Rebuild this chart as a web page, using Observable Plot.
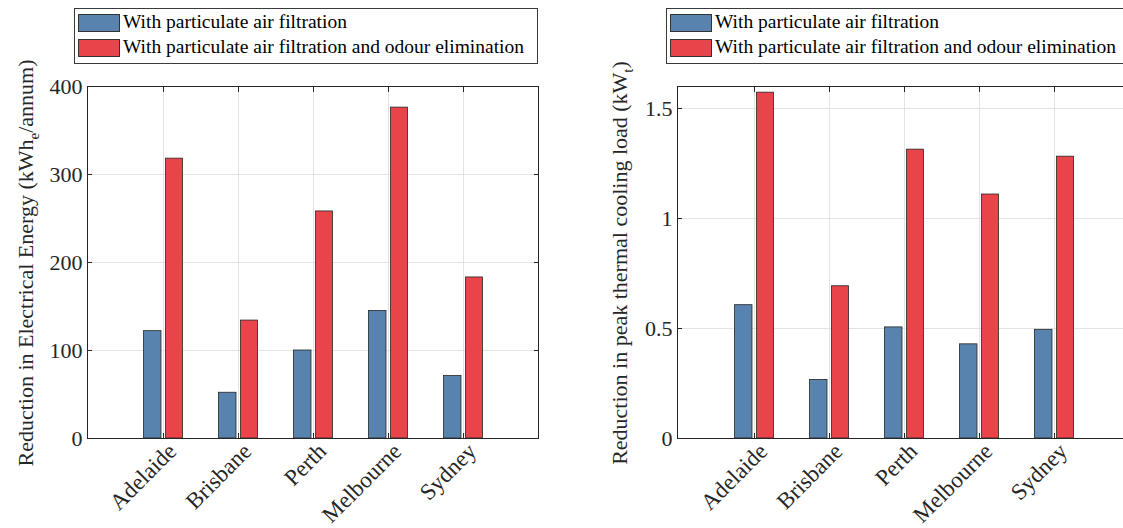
<!DOCTYPE html>
<html><head><meta charset="utf-8">
<script src="https://cdn.jsdelivr.net/npm/d3@7"></script>
<script src="https://cdn.jsdelivr.net/npm/@observablehq/plot@0.6"></script>
<style>
html,body{margin:0;padding:0;background:#fff;overflow:hidden;width:1123px;height:528px;}
#wrap{position:relative;width:1123px;height:528px;overflow:hidden;}
.panel{position:absolute;top:0;}
.legend{position:absolute;top:8px;height:56px;border:1px solid #3a3a3a;background:#fff;font-family:"Liberation Serif","Times New Roman",serif;font-size:19.5px;color:#000;box-sizing:border-box}
.legend .row{position:absolute;left:0;height:18px;white-space:nowrap}
.legend .sw{position:absolute;left:3px;top:0;width:42px;height:18px;border:1px solid #333;box-sizing:border-box}
.legend .lab{position:absolute;left:48px;top:-3px;line-height:22px}
</style></head>
<body><div id="wrap"></div>
<script>
const cities = ["Adelaide", "Brisbane", "Perth", "Melbourne", "Sydney"];
const seriesNames = ["With particulate air filtration", "With particulate air filtration and odour elimination"];
const energyFiltration = [122, 52, 100, 145, 71];
const energyFiltrationOdour = [318, 134, 258, 376, 183];
const coolingFiltration = [0.606, 0.266, 0.505, 0.428, 0.494];
const coolingFiltrationOdour = [1.572, 0.692, 1.313, 1.109, 1.281];
const energyTicks = [0, 100, 200, 300, 400];
const coolingTicks = [0, 0.5, 1, 1.5];
const colors = ["#5783ae", "#e8444a"];

const wrap = document.getElementById("wrap");

function panel({left, width, marginLeft, marginRight, v1, v2, domain, ticks, labelMain, labelSub, labelTail, labelX}) {
  const rows1 = cities.map((c, i) => ({city: c, value: v1[i]}));
  const rows2 = cities.map((c, i) => ({city: c, value: v2[i]}));
  const gridStyle = {stroke: "#e3e3e3", strokeOpacity: 1};
  const svg = Plot.plot({
    width, height: 528, marginLeft, marginRight, marginTop: 86, marginBottom: 90,
    style: {fontFamily: "'Liberation Serif', 'Times New Roman', serif", fontSize: "22px", color: "#262626", background: "transparent"},
    x: {domain: cities, paddingInner: 0.4667, paddingOuter: 0.74, label: null},
    y: {domain, label: null},
    marks: [
      Plot.gridY(ticks, gridStyle),
      Plot.gridX(cities, gridStyle),
      Plot.barY(rows1, {x: "city", y: "value", fill: colors[0], stroke: "#262626", strokeWidth: 0.8, insetLeft: 0.5, insetRight: 22}),
      Plot.barY(rows2, {x: "city", y: "value", fill: colors[1], stroke: "#262626", strokeWidth: 0.8, insetLeft: 22.5, insetRight: 0.5}),
      Plot.axisY(ticks, {anchor: "left", tickSize: 0, tickPadding: 5, label: null, tickFormat: d => String(d), fill: "#262626"}),
      Plot.axisY(ticks, {anchor: "left", tickSize: 5, dx: 5, fill: "none", label: null, stroke: "#262626"}),
      Plot.axisY(ticks, {anchor: "right", tickSize: 5, dx: -5, fill: "none", label: null, stroke: "#262626"}),
      Plot.axisX(cities, {anchor: "bottom", tickSize: 0, tickRotate: -45, tickPadding: 6, dx: 9, dy: 3, fontSize: 23, label: null, fill: "#262626"}),
      Plot.axisX(cities, {anchor: "bottom", tickSize: 5, dy: -5, fill: "none", label: null, stroke: "#262626"}),
      Plot.axisX(cities, {anchor: "top", tickSize: 5, dy: 5, fill: "none", label: null, stroke: "#262626"}),
      Plot.frame({stroke: "#262626", strokeWidth: 1})
    ]
  });
  svg.classList.add("panel");
  svg.style.left = left + "px";
  const t = d3.select(svg).append("text")
    .attr("transform", `translate(${labelX},263) rotate(-90)`)
    .attr("text-anchor", "middle")
    .attr("fill", "#262626")
    .style("font-size", "22px");
  t.append("tspan").text(labelMain);
  t.append("tspan").attr("dy", 6).style("font-size", "15px").text(labelSub);
  t.append("tspan").attr("dy", -6).text(labelTail);
  wrap.appendChild(svg);
}

panel({left: 0, width: 560, marginLeft: 87, marginRight: 22, v1: energyFiltration, v2: energyFiltrationOdour,
  domain: [0, 400], ticks: energyTicks, labelMain: "Reduction in Electrical Energy (kWh", labelSub: "e", labelTail: "/annum)", labelX: 33});
panel({left: 560, width: 600, marginLeft: 117, marginRight: 29, v1: coolingFiltration, v2: coolingFiltrationOdour,
  domain: [0, 1.6], ticks: coolingTicks, labelMain: "Reduction in peak thermal cooling load (kW", labelSub: "t", labelTail: ")", labelX: 67});

function legend(left) {
  const div = document.createElement("div");
  div.className = "legend";
  div.style.left = left + "px";
  div.style.width = "464px";
  seriesNames.forEach((name, i) => {
    const row = document.createElement("div");
    row.className = "row";
    row.style.top = (5 + i * 25) + "px";
    const sw = document.createElement("div");
    sw.className = "sw";
    sw.style.background = colors[i];
    const lab = document.createElement("div");
    lab.className = "lab";
    lab.textContent = name;
    row.appendChild(sw);
    row.appendChild(lab);
    div.appendChild(row);
  });
  wrap.appendChild(div);
}
legend(74);
legend(666);
</script>
</body></html>
